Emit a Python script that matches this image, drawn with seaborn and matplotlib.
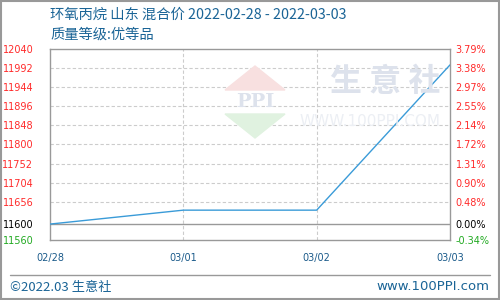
import matplotlib
matplotlib.use("Agg")
import matplotlib.pyplot as plt
import seaborn as sns
import pandas as pd
from matplotlib.patches import Polygon, Rectangle
from matplotlib.lines import Line2D

dates = ["02/28", "03/01", "03/02", "03/03"]
prices = [11600, 11635, 11635, 12000]
yticks = [11560, 11600, 11656, 11704, 11752, 11800, 11848, 11896, 11944, 11992, 12040]
pct_labels = ["-0.34%", "0.00%", "0.48%", "0.90%", "1.31%", "1.72%", "2.14%", "2.55%", "2.97%", "3.38%", "3.79%"]
title1 = "环氧丙烷 山东 混合价 2022-02-28 - 2022-03-03"
title2 = "质量等级:优等品"
footer_left = "©2022.03 生意社"
footer_right = "www.100PPI.com"

sns.set_style("white")
plt.rcParams["font.family"] = ["Noto Sans CJK SC", "DejaVu Sans"]

df = pd.DataFrame({"x": range(len(dates)), "price": prices})

fig = plt.figure(figsize=(5, 3), dpi=100)
ax = fig.add_axes([0.1, 0.2, 0.8, 0.6367])

# watermark
wm = "#dde2ec"
fig.patches.append(Polygon([[0.51, 0.78], [0.57, 0.70], [0.45, 0.70]], closed=True,
                           transform=fig.transFigure, color="#f8e0e0", zorder=0))
fig.patches.append(Polygon([[0.45, 0.62], [0.57, 0.62], [0.51, 0.54]], closed=True,
                           transform=fig.transFigure, color="#e0f2e0", zorder=0))
fig.text(0.51, 0.66, "PPI", ha="center", va="center", fontsize=14, color=wm,
         family="DejaVu Serif", fontweight="bold", zorder=0)
fig.text(0.77, 0.725, "生 意 社", ha="center", va="center", fontsize=23, color=wm,
         fontweight="bold", zorder=0)
fig.text(0.74, 0.595, "WWW.100PPI.COM", ha="center", va="center", fontsize=11, color="#eceff4",
         family="DejaVu Sans", zorder=0)
ax.set_facecolor("none")

sns.lineplot(data=df, x="x", y="price", ax=ax, color="#3a9bd8", linewidth=1.0, zorder=3)

ax.set_xlim(0, 3)
ax.set_ylim(11560, 12040)
ax.set_xticks(range(len(dates)))
ax.set_xticklabels(dates)
ax.set_yticks(yticks)
ax.set_yticklabels([str(v) for v in yticks])
ax.set_xlabel("")
ax.set_ylabel("")

for v in yticks[2:-1]:
    ax.axhline(v, color="#cccccc", linestyle=(0, (3, 2)), linewidth=0.8, zorder=1)
ax.axhline(11600, color="#999999", linewidth=1.0, zorder=2)
for x in [1, 2]:
    ax.axvline(x, color="#cccccc", linestyle=(0, (3, 2)), linewidth=0.8, zorder=1)

for s in ax.spines.values():
    s.set_color("#999999")
    s.set_linewidth(1.0)

def col(v):
    if v > 11600:
        return "#ff2a2a"
    if v == 11600:
        return "black"
    return "#22aa22"

ax.tick_params(axis="y", length=0, pad=12, labelsize=7)
for lab, v in zip(ax.get_yticklabels(), yticks):
    lab.set_color(col(v))
    lab.set_family("DejaVu Sans")
ax.tick_params(axis="x", length=0, pad=9, labelsize=7, labelcolor="#1a5a8a")
for lab in ax.get_xticklabels():
    lab.set_family("DejaVu Sans")

ax2 = ax.twinx()
ax2.set_ylim(ax.get_ylim())
ax2.set_yticks(yticks)
ax2.set_yticklabels(pct_labels)
ax2.tick_params(axis="y", length=0, pad=4, labelsize=7)
for lab, v in zip(ax2.get_yticklabels(), yticks):
    lab.set_color(col(v))
    lab.set_family("DejaVu Sans")
for s in ax2.spines.values():
    s.set_visible(False)

tc = "#1a6496"
fig.text(0.1, 1 - 15 / 300, title1, ha="left", va="center", fontsize=10.3, color=tc)
fig.text(0.1, 1 - 35 / 300, title2, ha="left", va="center", fontsize=10.3, color=tc)

fig.lines.append(Line2D([10 / 500, 490 / 500], [1 - 275 / 300] * 2, transform=fig.transFigure,
                        color="#999999", linewidth=1.0))
fig.text(10 / 500, 1 - 287 / 300, footer_left, ha="left", va="center", fontsize=9.5, color=tc)
fig.text(489 / 500, 1 - 287 / 300, footer_right, ha="right", va="center", fontsize=9.5, color=tc,
         family="DejaVu Sans")

fig.patches.append(Rectangle((0.001, 0.002), 0.997, 0.995, transform=fig.transFigure,
                             fill=False, edgecolor="#999999", linewidth=1.5))

fig.savefig("out.png", dpi=100)
